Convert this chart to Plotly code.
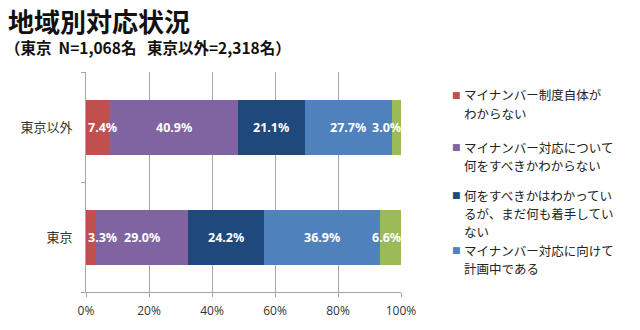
import plotly.graph_objects as go

categories = ["東京", "東京以外"]
series_names = [
    "マイナンバー制度自体が<br>わからない",
    "マイナンバー対応について<br>何をすべきかわからない",
    "何をすべきかはわかってい<br>るが、まだ何も着手してい<br>ない",
    "マイナンバー対応に向けて<br>計画中である",
    "その他",
]
tokyo = [3.3, 29.0, 24.2, 36.9, 6.6]
other = [7.4, 40.9, 21.1, 27.7, 3.0]
colors = ["#C0504D", "#8064A2", "#1F497D", "#4F81BD", "#9BBB59"]
x_ticks = [0, 20, 40, 60, 80, 100]
x_ticklabels = ["0%", "20%", "40%", "60%", "80%", "100%"]

L, R, T, B = 86, 239, 72, 38
W, H = 640, 330
pw = W - L - R
ph = H - T - B

fig = go.Figure()
for i, name in enumerate(series_names):
    fig.add_trace(go.Bar(
        y=categories, x=[tokyo[i], other[i]], orientation="h",
        name=name, marker=dict(color=colors[i], line=dict(width=0)),
        width=0.5, showlegend=False, hoverinfo="skip",
    ))

# data labels, clamped inside plot area like Excel
annotations = []
for ci, vals in enumerate([tokyo, other]):
    cum = 0
    for v in vals:
        mid = cum + v / 2
        cum += v
        xpos = min(max(mid, 5.2), 95.4)
        annotations.append(dict(
            x=xpos, y=categories[ci], xref="x", yref="y",
            text=f"{v:.1f}%", showarrow=False,
            font=dict(family="Noto Sans, Open Sans, sans-serif", size=12.5, color="white", weight="bold"),
        ))

def px_x(px):
    return (px - L) / pw

def px_y(py):
    return 1 - (py - T) / ph

# title
annotations.append(dict(x=px_x(6), y=px_y(20), xref="paper", yref="paper", xanchor="left", yanchor="middle",
                        text="<b>地域別対応状況</b>", showarrow=False,
                        font=dict(family="Noto Sans CJK JP", size=26, color="#111111")))
annotations.append(dict(x=px_x(3), y=px_y(47), xref="paper", yref="paper", xanchor="left", yanchor="middle",
                        text="<b>（東京  N=1,068名   東京以外=2,318名）</b>", showarrow=False,
                        font=dict(family="Noto Sans CJK JP", size=15.5, color="#111111")))

# legend (first four entries visible), one annotation per text line
legend_lines = [[95, 113], [147, 165], [195, 213, 231], [250, 268]]
for i in range(4):
    lines = series_names[i].split("<br>")
    annotations.append(dict(x=px_x(451), y=px_y(legend_lines[i][0]), xref="paper", yref="paper",
                            xanchor="left", yanchor="middle", text="■", showarrow=False, borderpad=0,
                            font=dict(family="DejaVu Sans", size=9, color=colors[i])))
    for line, yc in zip(lines, legend_lines[i]):
        annotations.append(dict(x=px_x(463), y=px_y(yc), xref="paper", yref="paper",
                                xanchor="left", yanchor="middle", text=line, showarrow=False,
                                borderpad=0,
                                font=dict(family="Noto Sans CJK JP", size=12.5, color="#222222")))

fig.update_layout(
    barmode="stack",
    width=W, height=H,
    margin=dict(l=L, r=R, t=T, b=B, pad=0),
    paper_bgcolor="white", plot_bgcolor="white",
    showlegend=False,
    annotations=annotations,
    xaxis=dict(range=[0, 100], tickvals=x_ticks, ticktext=x_ticklabels,
               showgrid=True, gridcolor="#A6A6A6", gridwidth=1,
               showline=True, linecolor="#A6A6A6", linewidth=1,
               ticks="outside", ticklen=4, tickcolor="#A6A6A6", ticklabelstandoff=4,
               tickfont=dict(family="Open Sans, sans-serif", size=12, color="#333333"),
               zeroline=False, fixedrange=True),
    yaxis=dict(range=[-0.5, 1.5], categoryorder="array", categoryarray=categories,
               showline=True, linecolor="#A6A6A6", linewidth=1,
               ticks="outside", ticklen=4, tickcolor="#A6A6A6", tickson="boundaries",
               showgrid=False, ticklabelstandoff=10,
               tickfont=dict(family="Noto Sans CJK JP", size=13, color="#333333"),
               fixedrange=True),
)

fig.write_html("out.html")
